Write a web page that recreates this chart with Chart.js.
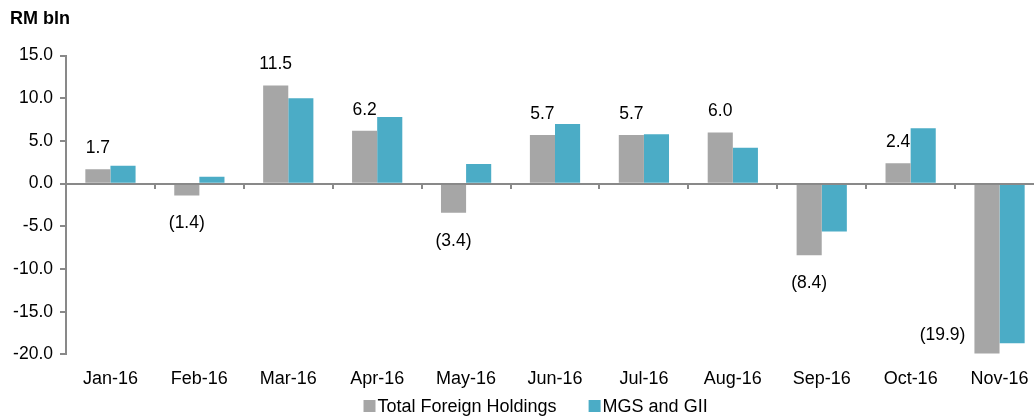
<!DOCTYPE html>
<html>
<head>
<meta charset="utf-8">
<script src="https://cdn.jsdelivr.net/npm/chart.js@4/dist/chart.umd.min.js"></script>
<style>
  html, body { margin: 0; padding: 0; background: #fff; overflow: hidden; }
  /* plot runs a little past the right edge of the picture, as in the source */
  #wrap { width: 1044px; height: 417px; position: relative; }
</style>
</head>
<body>
<div id="wrap"><canvas id="flowChart"></canvas></div>
<script>
// data (RM bln)
const months = ['Jan-16', 'Feb-16', 'Mar-16', 'Apr-16', 'May-16', 'Jun-16', 'Jul-16', 'Aug-16', 'Sep-16', 'Oct-16', 'Nov-16'];
const totalForeign = [1.7, -1.4, 11.5, 6.2, -3.4, 5.7, 5.7, 6.0, -8.4, 2.4, -19.9];
const mgsGii = [2.1, 0.8, 10.0, 7.8, 2.3, 7.0, 5.8, 4.2, -5.6, 6.5, -18.7];
const yTicks = [15, 10, 5, 0, -5, -10, -15, -20];

const axisGrey = '#898989';
const fontFam = '"Liberation Sans", Arial, sans-serif';

// zero line + category tick marks, drawn over the bars
const zeroAxis = {
    id: 'zeroAxis',
    afterDatasetsDraw(chart) {
        let ctx = chart.ctx, x = chart.scales.x, y = chart.scales.y;
        let y0 = Math.round(y.getPixelForValue(0));
        let area = chart.chartArea;
        let step = x.getPixelForValue(1) - x.getPixelForValue(0);
        ctx.save();
        ctx.strokeStyle = axisGrey;
        ctx.lineWidth = 2;
        ctx.beginPath();
        ctx.moveTo(area.left, y0);
        ctx.lineTo(area.right, y0);
        ctx.stroke();
        ctx.beginPath();
        for (let i = 0; i <= months.length; i++) {
            let px = Math.round(x.getPixelForValue(0) - step / 2 + i * step);
            ctx.moveTo(px, y0);
            ctx.lineTo(px, y0 + 5);
        }
        ctx.stroke();
        ctx.restore();
    }
};

// value labels for Total Foreign Holdings only, negatives in brackets
const totalLabels = {
    id: 'totalLabels',
    afterDatasetsDraw(chart) {
        let ctx = chart.ctx;
        let meta = chart.getDatasetMeta(0);
        ctx.save();
        ctx.font = '17.5px ' + fontFam;
        ctx.fillStyle = '#000';
        ctx.textBaseline = 'middle';
        meta.data.forEach((bar, i) => {
            let v = totalForeign[i];
            let txt = v < 0 ? '(' + Math.abs(v).toFixed(1) + ')' : v.toFixed(1);
            ctx.textAlign = 'center';
            if (v >= 0) {
                ctx.fillText(txt, bar.x, bar.y - 21);
            } else if (bar.y + 30 > chart.chartArea.bottom) {
                ctx.textAlign = 'right';
                ctx.fillText(txt, bar.x - bar.width / 2 - 9, bar.y - 18);
            } else {
                ctx.fillText(txt, bar.x, bar.y + 28);
            }
        });
        ctx.restore();
    }
};

// legend drawn by hand: tight box-to-text gap, wide gap between items
const bottomLegend = {
    id: 'bottomLegend',
    afterDraw(chart) {
        let ctx = chart.ctx;
        let sets = chart.data.datasets;
        ctx.save();
        ctx.font = '18px ' + fontFam;
        ctx.textBaseline = 'middle';
        ctx.textAlign = 'left';
        let widths = sets.map(ds => 12 + 2 + ctx.measureText(ds.label).width);
        let total = widths.reduce((a, b) => a + b, 0) + 32 * (sets.length - 1);
        let x = chart.width * 0.513 - total / 2;
        let y = chart.height - 11;
        sets.forEach((ds, i) => {
            ctx.fillStyle = ds.backgroundColor;
            ctx.fillRect(x, y - 6, 12, 12);
            ctx.fillStyle = '#000';
            ctx.fillText(ds.label, x + 14, y + 1);
            x += widths[i] + 32;
        });
        ctx.restore();
    }
};

let flowChart = new Chart(document.getElementById('flowChart'), {
    type: 'bar',
    data: {
        labels: months,
        datasets: [
            { label: 'Total Foreign Holdings', data: totalForeign, backgroundColor: '#A6A6A6' },
            { label: 'MGS and GII', data: mgsGii, backgroundColor: '#4BACC6' }
        ]
    },
    plugins: [zeroAxis, totalLabels, bottomLegend],
    options: {
        responsive: true,
        maintainAspectRatio: false,
        animation: false,
        layout: { padding: { left: 10, right: 0, top: 0, bottom: 21 } },
        datasets: { bar: { categoryPercentage: 0.565, barPercentage: 1.0 } },
        plugins: {
            title: {
                display: true,
                text: 'RM bln',
                align: 'start',
                color: '#000',
                font: { family: fontFam, size: 18, weight: 'bold' },
                padding: { top: 8, bottom: 26 }
            },
            legend: { display: false },
            tooltip: { enabled: false }
        },
        scales: {
            x: {
                grid: { display: false },
                border: { display: false },
                ticks: {
                    color: '#000',
                    font: { family: fontFam, size: 18 },
                    maxRotation: 0,
                    autoSkip: false,
                    padding: 6
                }
            },
            y: {
                min: -20,
                max: 15,
                afterBuildTicks: (scale) => { scale.ticks = yTicks.map(v => ({ value: v })); },
                afterFit: (scale) => { scale.width = 56; },
                grid: { drawOnChartArea: false, drawTicks: true, tickLength: 6, color: axisGrey, lineWidth: 2 },
                border: { color: axisGrey, width: 2 },
                ticks: {
                    color: '#000',
                    font: { family: fontFam, size: 17.5 },
                    padding: 7,
                    callback: (v) => Number(v).toFixed(1)
                }
            }
        }
    }
});
</script>
</body>
</html>
